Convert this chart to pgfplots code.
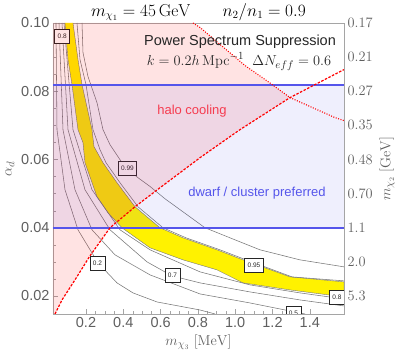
\documentclass[border=0pt]{standalone}
\usepackage[no-math]{fontspec}
\setmainfont{Liberation Sans}
\usepackage{pgfplots}
\pgfplotsset{compat=1.18}

\definecolor{tickgray}{RGB}{95,95,95}
\definecolor{framegray}{RGB}{165,165,165}
\definecolor{cline}{RGB}{120,120,120}
\definecolor{bandblue}{RGB}{80,80,230}
\definecolor{lineblue}{RGB}{85,85,235}
\definecolor{halored}{RGB}{245,60,80}

\tikzset{
  clabel/.style={draw=black!85, fill=white, line width=0.75pt, inner xsep=3pt,
    inner ysep=2pt, minimum height=14pt, font=\fontsize{6.5}{7}\selectfont, text=black!85},
  cont/.style={cline, line width=0.55pt},
}

\begin{document}
\begin{tikzpicture}
\begin{axis}[
  scale only axis, width=291pt, height=291pt,
  xmin=0.0231, xmax=1.5834, ymin=0.0147, ymax=0.1,
  axis line style={framegray},
  tick align=inside, xtick pos=bottom, ytick pos=left,
  xtick={0.2,0.4,0.6,0.8,1.0,1.2,1.4},
  ytick={0.02,0.04,0.06,0.08,0.1},
  minor x tick num=3, minor y tick num=3,
  major tick length=5pt, minor tick length=3pt,
  tick style={framegray},
  /pgf/number format/assume math mode=true,
  ticklabel style={font=\fontsize{14.5}{16}\selectfont, text=tickgray},
  xticklabel style={/pgf/number format/fixed, /pgf/number format/fixed zerofill, /pgf/number format/precision=1},
  yticklabel style={/pgf/number format/fixed, /pgf/number format/fixed zerofill, /pgf/number format/precision=2},
  xlabel={$m_{\chi_3}\ [\mathrm{MeV}]$},
  ylabel={$\alpha_d$},
  label style={font=\fontsize{15}{18}\selectfont, text=tickgray},
  title={$m_{\chi_1}=45\,\mathrm{GeV}$\qquad$n_2/n_1=0.9$},
  title style={font=\fontsize{16}{18}\selectfont, yshift=-6pt, inner sep=2pt},
]
\coordinate (bl) at (rel axis cs:0,0);
\coordinate (tr) at (rel axis cs:1,1);

% yellow band
\addplot[fill=yellow, draw=cline, line width=0.4pt] coordinates {
 (0.1303,0.1) (0.1571,0.08929) (0.1786,0.08195) (0.2322,0.06874) (0.2429,0.06375)
 (0.2912,0.05905) (0.3662,0.05318) (0.4627,0.04613) (0.5968,0.03997) (0.7201,0.03703)
 (0.9024,0.03351) (1.0418,0.03057) (1.2938,0.02558) (1.5834,0.02411)
 (1.5834,0.0197) (1.2938,0.02176) (1.0418,0.02382) (0.9024,0.02764) (0.7201,0.03057)
 (0.5432,0.0341) (0.3930,0.03997) (0.3180,0.04437) (0.2590,0.04907) (0.1946,0.05905)
 (0.1839,0.06493) (0.1571,0.06874) (0.1249,0.08195) (0.1035,0.08929) (0.0874,0.1)};

% contour lines
\addplot[cont] coordinates {(0.1786,0.1) (0.1839,0.09135) (0.2107,0.0843) (0.2590,0.07666)
 (0.2912,0.06874) (0.3287,0.06434) (0.3823,0.05993) (0.4198,0.05729) (0.4788,0.05465)
 (0.5432,0.05209) (0.6236,0.04848) (0.8381,0.03997) (1.1330,0.03351) (1.3475,0.03057) (1.5834,0.02852)};
\addplot[cont] coordinates {(0.1517,0.1) (0.1678,0.08929) (0.2,0.08195) (0.2375,0.06874)
 (0.2751,0.06287) (0.3072,0.05905) (0.3823,0.05318) (0.4788,0.04613) (0.6129,0.03997)
 (0.7362,0.03703) (0.9185,0.03351) (1.0579,0.03057) (1.3046,0.02558) (1.5834,0.02441)};
\addplot[cont] coordinates {(0.082,0.1) (0.1303,0.06874) (0.2322,0.05113) (0.3823,0.03938)
 (0.5432,0.03351) (0.8113,0.02705) (1.0794,0.02323) (1.3475,0.02088) (1.5834,0.01911)};
\addplot[cont] coordinates {(0.0713,0.1) (0.1035,0.06874) (0.1946,0.05113) (0.3287,0.03938)
 (0.5271,0.02998) (0.6611,0.02587) (0.8113,0.02382) (1.0794,0.02117) (1.3475,0.01882) (1.5834,0.01706)};
\addplot[cont] coordinates {(0.0552,0.1) (0.0767,0.06874) (0.141,0.05113) (0.2322,0.03938)
 (0.3555,0.03204) (0.5432,0.02617) (0.8113,0.02058) (1.0794,0.01794) (1.2938,0.01559) (1.3743,0.01471)};
\addplot[cont] coordinates {(0.0391,0.1) (0.0445,0.06874) (0.0874,0.05113) (0.1571,0.03938)
 (0.2643,0.02969) (0.3662,0.02382) (0.452,0.02088) (0.5807,0.01823) (0.8113,0.01588) (0.8917,0.01471)};

% contour labels
\node[clabel] at (axis cs:0.0724,0.09604) {0.8};
\node[clabel] at (axis cs:0.4225,0.05743) {0.99};
\node[clabel] at (axis cs:1.1008,0.02895) {0.95};
\node[clabel] at (axis cs:0.2617,0.02954) {0.2};
\node[clabel] at (axis cs:0.6638,0.02602) {0.7};
\node[clabel] at (axis cs:1.5458,0.01956) {0.8};
\node[clabel] at (axis cs:1.3126,0.0150) {0.5};

% halo cooling region
\addplot[draw=none, fill=red, fill opacity=0.11] coordinates {
 (0.0231,0.0147) (0.0338,0.0147) (0.0713,0.01882) (0.141,0.0247) (0.2214,0.03175)
 (0.3287,0.03997) (0.4627,0.04613) (0.5968,0.05171) (0.8113,0.06052) (1.0257,0.06874)
 (1.2938,0.07813) (1.1758,0.08283) (1.0525,0.08754) (0.8113,0.09869) (0.7737,0.1) (0.0231,0.1)};
% dwarf / cluster band
\addplot[draw=none, fill=bandblue, fill opacity=0.09] coordinates {
 (0.0231,0.0400) (1.5834,0.0400) (1.5834,0.0819) (0.0231,0.0819)};

\addplot[lineblue, line width=1.8pt] coordinates {(0.0231,0.0819) (1.5834,0.0819)};
\addplot[lineblue, line width=1.8pt] coordinates {(0.0231,0.0400) (1.5834,0.0400)};

\addplot[red, line width=1.2pt, dash pattern=on 2.5pt off 1.5pt] coordinates {
 (0.0338,0.0147) (0.0713,0.01882) (0.141,0.0247) (0.2214,0.03175) (0.3287,0.03997)
 (0.4627,0.04613) (0.5968,0.05171) (0.8113,0.06052) (1.0257,0.06874) (1.2938,0.07813) (1.5834,0.08635)};
\addplot[red, line width=1.1pt, dash pattern=on 1pt off 1.5pt] coordinates {
 (0.7737,0.1) (0.8113,0.09869) (1.0525,0.08754) (1.1758,0.08283) (1.2938,0.07813)
 (1.5351,0.07226) (1.5834,0.07138)};

\node[font=\fontsize{14.5}{16}\selectfont, text=black!85] at (axis cs:1.0257,0.09457) {Power Spectrum Suppression};
\node[font=\fontsize{15}{17}\selectfont, text=black!85] at (axis cs:1.0204,0.0887) {$k=0.2h\,\mathrm{Mpc}^{-1}\ \ \Delta N_{eff}=0.6$};
\node[font=\fontsize{13}{15}\selectfont, text=halored] at (axis cs:0.7684,0.07402) {halo cooling};
\node[font=\fontsize{13}{15}\selectfont, text=lineblue] at (axis cs:1.1169,0.05024) {dwarf / cluster preferred};
\end{axis}

\begin{axis}[
  scale only axis, width=291pt, height=291pt,
  xmin=0.0231, xmax=1.5834, ymin=0.0147, ymax=0.1,
  axis x line=none, axis y line*=right,
  axis line style={framegray},
  ytick={0.02,0.03,0.04,0.05,0.06,0.07,0.08,0.09,0.1},
  yticklabels={$5.3$,$2.0$,$1.1$,$0.70$,$0.48$,$0.35$,$0.27$,$0.21$,$0.17$},
  major tick length=0pt,
  ticklabel style={font=\fontsize{14.5}{16}\selectfont, text=tickgray},
  ylabel={$m_{\chi_2}\ [\mathrm{GeV}]$},
  label style={font=\fontsize{15}{18}\selectfont, text=tickgray},
]
\end{axis}
\pgfresetboundingbox
\path ([shift={(-53pt,-48pt)}]bl) rectangle ([shift={(59pt,23pt)}]tr);
\end{tikzpicture}
\end{document}
